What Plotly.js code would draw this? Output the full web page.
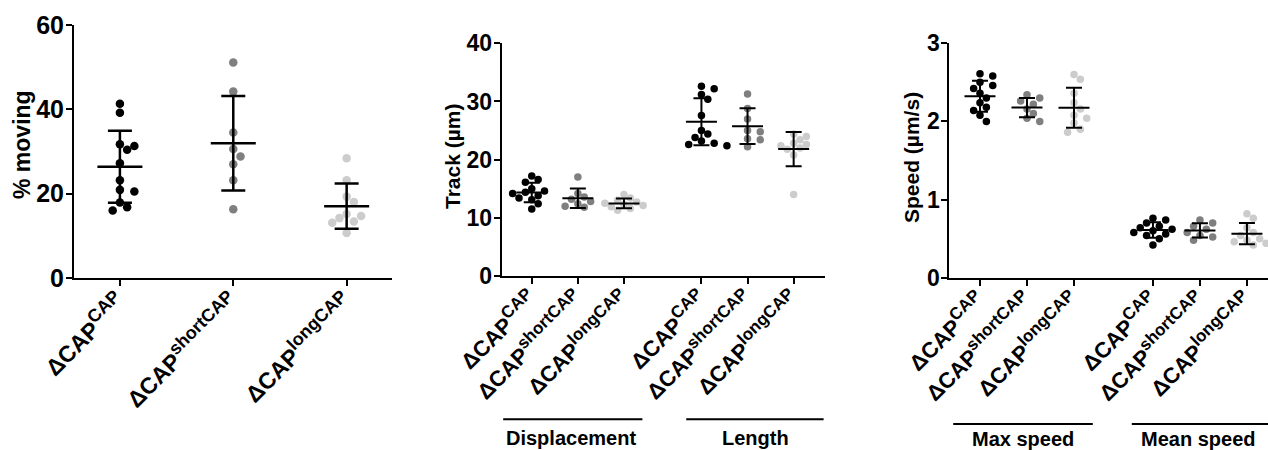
<!DOCTYPE html>
<html><head><meta charset="utf-8">
<script src="https://cdn.plot.ly/plotly-3.0.1.min.js"></script>
<style>html,body{margin:0;padding:0;background:#fff}#chart{width:1268px;height:450px}</style>
</head><body><div id="chart"></div>
<script>
// ---------- data ----------
const strainBase = 'ΔCAP';
const strainSup = ['CAP', 'shortCAP', 'longCAP'];
const strainColors = ['#000000', '#7f7f7f', '#cccccc'];

// Panel 1: % moving
const movingCAP   = [41.3, 39.2, 31.7, 31.3, 30.4, 27.2, 23.2, 20.9, 20.5, 17.9, 16.8, 16.0];
const movingShort = [51.1, 44.2, 34.5, 30.6, 28.8, 27.0, 23.2, 16.3];
const movingLong  = [28.4, 23.2, 19.3, 18.0, 15.2, 14.7, 14.2, 13.4, 13.1, 10.7];

// Panel 2: Track (µm)
const dispCAP   = [17.2, 16.6, 16.1, 15.0, 14.6, 14.4, 14.2, 13.8, 13.4, 13.1, 12.4, 11.5];
const dispShort = [17.0, 14.2, 13.6, 13.2, 12.8, 12.4, 12.0, 11.8];
const dispLong  = [14.0, 13.4, 13.0, 12.7, 12.5, 12.3, 12.1, 11.9, 11.6, 11.3];
const lenCAP    = [32.6, 32.2, 31.2, 30.4, 27.6, 25.0, 24.4, 23.8, 23.2, 22.8, 22.6, 22.4];
const lenShort  = [31.3, 28.8, 27.0, 25.0, 24.8, 23.6, 23.4, 22.2];
const lenLong   = [24.4, 24.0, 23.4, 22.8, 22.6, 22.4, 22.0, 21.8, 20.8, 14.0];

// Panel 3: Speed (µm/s)
const maxCAP    = [2.61, 2.58, 2.50, 2.46, 2.42, 2.36, 2.30, 2.24, 2.18, 2.14, 2.08, 2.00];
const maxShort  = [2.34, 2.30, 2.26, 2.22, 2.16, 2.10, 2.04, 2.00];
const maxLong   = [2.60, 2.54, 2.36, 2.24, 2.16, 2.08, 2.04, 1.98, 1.90, 1.86];
const meanCAP   = [0.76, 0.74, 0.70, 0.66, 0.64, 0.62, 0.60, 0.58, 0.56, 0.54, 0.50, 0.42];
const meanShort = [0.74, 0.70, 0.66, 0.62, 0.58, 0.54, 0.52, 0.48];
const meanLong  = [0.82, 0.76, 0.64, 0.58, 0.54, 0.50, 0.48, 0.46, 0.44, 0.42];

const yTicks1 = [0, 20, 40, 60];
const yTicks2 = [0, 10, 20, 30, 40];
const yTicks3 = [0, 1, 2, 3];
const yTitle1 = '% moving';
const yTitle2 = 'Track (µm)';
const yTitle3 = 'Speed (µm/s)';
const measures2 = ['Displacement', 'Length'];
const measures3 = ['Max speed', 'Mean speed'];

// ---------- layout geometry ----------
const W = 1268, H = 450;
const FONT = 'Liberation Sans, Arial, sans-serif';
const GAP = 1.68; // extra spacing between measure blocks

const panels = [
  { blocks: [[movingCAP, movingShort, movingLong]], dom: [74, 392], ydom: [278, 25], xr: [-0.405, 2.40], yr: [0, 60], ticks: yTicks1, d: 8.5, meanLen: 45, cap: 12, lw: 2.5, tickSize: 25, xSize: 23, supSize: 18 },
  { blocks: [[dispCAP, dispShort, dispLong], [lenCAP, lenShort, lenLong]], dom: [501.7, 825], ydom: [276, 43.3], xr: [-0.652, 6.36], yr: [0, 40], ticks: yTicks2, d: 7.5, meanLen: 31, cap: 8, lw: 2, tickSize: 23, xSize: 22, supSize: 17 },
  { blocks: [[maxCAP, maxShort, maxLong], [meanCAP, meanShort, meanLong]], dom: [949.3, 1268], ydom: [277.7, 43.3], xr: [-0.653, 6.128], yr: [0, 3], ticks: yTicks3, d: 7.5, meanLen: 31, cap: 8, lw: 2, tickSize: 23, xSize: 22, supSize: 17 }
];

function swarm(vals, d, pxX, pxY) {
  const idx = vals.map((v, i) => i).sort((a, b) => vals[b] - vals[a]);
  const placed = [];
  const off = new Array(vals.length).fill(0);
  const step = d * 0.85, minD = d * 0.95;
  for (const i of idx) {
    const y = vals[i] * pxY;
    for (let k = 0; k < 60; k++) {
      const c = k === 0 ? 0 : (k % 2 ? 1 : -1) * Math.ceil(k / 2) * step;
      if (placed.every(p => Math.hypot(p.x - c, p.y - y) >= minD)) { off[i] = c; placed.push({ x: c, y }); break; }
    }
  }
  return off.map(o => o / pxX);
}
const mean = a => a.reduce((s, v) => s + v, 0) / a.length;
const sd = a => { const m = mean(a); return Math.sqrt(a.reduce((s, v) => s + (v - m) * (v - m), 0) / (a.length - 1)); };

const data = [];
const layout = {
  width: W, height: H, margin: { l: 0, r: 0, t: 0, b: 0 },
  paper_bgcolor: '#fff', plot_bgcolor: '#fff', showlegend: false, hovermode: false,
  shapes: [], annotations: []
};

panels.forEach((p, pi) => {
  const n = pi + 1;
  const xa = 'x' + (n === 1 ? '' : n), ya = 'y' + (n === 1 ? '' : n);
  const pxX = (p.dom[1] - p.dom[0]) / (p.xr[1] - p.xr[0]);
  const pxY = (p.ydom[0] - p.ydom[1]) / (p.yr[1] - p.yr[0]);
  const tickvals = [], ticktext = [];
  const summaries = [];
  p.blocks.forEach((blk, bi) => {
    blk.forEach((vals, gi) => {
      const pos = bi * (3 + GAP - 1) + gi;
      tickvals.push(pos);
      ticktext.push('<b>' + strainBase + '<sup><span style="font-size:' + p.supSize + 'px">' + strainSup[gi] + '</span></sup></b>');
      const offs = swarm(vals, p.d, pxX, pxY);
      data.push({
        type: 'scatter', mode: 'markers', xaxis: xa, yaxis: ya,
        x: vals.map((v, i) => pos + offs[i]), y: vals,
        marker: { size: p.d, color: strainColors[gi], line: { width: 0 } },
        hoverinfo: 'skip'
      });
      summaries.push({
        type: 'scatter', mode: 'markers', xaxis: xa, yaxis: ya,
        x: [pos], y: [mean(vals)],
        marker: { symbol: 'line-ew', size: p.meanLen / 1.4, color: '#000', line: { width: p.lw, color: '#000' } },
        error_y: { type: 'data', array: [sd(vals)], visible: true, width: p.cap, thickness: p.lw, color: '#000' },
        hoverinfo: 'skip'
      });
    });
  });
  data.push(...summaries);
  const axisCommon = {
    showline: true, linewidth: 2, linecolor: '#000', ticks: 'outside', ticklen: 6, tickwidth: 2, tickcolor: '#000',
    showgrid: false, zeroline: false, fixedrange: true
  };
  layout['xaxis' + (n === 1 ? '' : n)] = Object.assign({}, axisCommon, {
    domain: [p.dom[0] / W, p.dom[1] / W], range: p.xr, anchor: ya,
    tickmode: 'array', tickvals, ticktext, tickangle: -45, ticklabelstandoff: -6,
    tickfont: { family: FONT, size: p.xSize, color: '#000', weight: 'bold' }
  });
  layout['yaxis' + (n === 1 ? '' : n)] = Object.assign({}, axisCommon, {
    domain: [(H - p.ydom[0]) / H, (H - p.ydom[1]) / H], range: p.yr, anchor: xa,
    tickmode: 'array', tickvals: p.ticks, ticktext: p.ticks.map(t => '<b>' + t + '</b>'),
    tickfont: { family: FONT, size: p.tickSize, color: '#000', weight: 'bold' }, ticklabelstandoff: -3
  });
});

// axis titles
[[yTitle1, 22, 145, 23], [yTitle2, 452, 157, 21], [yTitle3, 911, 158, 21]].forEach(([t, x, y, s]) => {
  layout.annotations.push({ text: '<b>' + t + '</b>', xref: 'paper', yref: 'paper', x: x / W, y: (H - y) / H,
    xanchor: 'center', yanchor: 'middle', textangle: -90, showarrow: false,
    font: { family: FONT, size: s, color: '#000', weight: 'bold' } });
});

// measure group labels
const groupDefs = [
  { xref: 'x2', names: measures2, lines: [[-0.62, 2.40], [3.35, 6.33]], centers: [0.85, 4.85], ly: 419.3, ty: 438 },
  { xref: 'x3', names: measures3, lines: [[-0.57, 2.40], [3.23, 6.2]], centers: [0.91, 4.64], ly: 424, ty: 439 }
];
groupDefs.forEach(g => {
  g.names.forEach((name, i) => {
    layout.shapes.push({ type: 'line', xref: g.xref, yref: 'paper', x0: g.lines[i][0], x1: g.lines[i][1],
      y0: (H - g.ly) / H, y1: (H - g.ly) / H, line: { color: '#000', width: 2 } });
    layout.annotations.push({ text: '<b>' + name + '</b>', xref: g.xref, yref: 'paper', x: g.centers[i], y: (H - g.ty) / H,
      xanchor: 'center', yanchor: 'middle', showarrow: false,
      font: { family: FONT, size: 20, color: '#000', weight: 'bold' } });
  });
});

Plotly.newPlot('chart', data, layout, { staticPlot: true, displayModeBar: false });
</script>
</body></html>
